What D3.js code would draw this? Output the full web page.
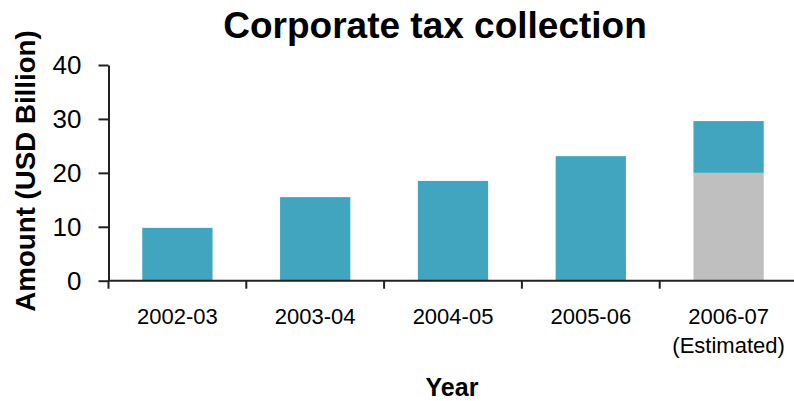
<!DOCTYPE html>
<html><head><meta charset="utf-8">
<script src="https://cdn.jsdelivr.net/npm/d3@7"></script>
<style>body{margin:0;background:#fff}svg{display:block}text{font-family:"Liberation Sans",Arial,Helvetica,sans-serif}</style>
</head><body>
<svg id="c" width="794" height="401"></svg>
<script>
const categories = ["2002-03","2003-04","2004-05","2005-06","2006-07"];
const subLabels = ["","","","","(Estimated)"];
const grayValues = [0,0,0,0,20];
const tealValues = [9.8,15.5,18.5,23.1,9.6];
const yTicks = [0,10,20,30,40];
const title = "Corporate tax collection";
const yTitle = "Amount (USD Billion)";
const xTitle = "Year";

const svg = d3.select("#c");
const x0 = 108.5, x1 = 797.5, yTop = 65, yBot = 280.7;
const x = d3.scaleBand().domain(categories).range([x0, x1]).paddingInner(0.49).paddingOuter(0.245);
const y = d3.scaleLinear().domain([0,40]).range([yBot, yTop]);

const rows = categories.map((c,i)=>({cat:c, gray:grayValues[i], teal:tealValues[i]}));
const stack = d3.stack().keys(["gray","teal"])(rows);
const colors = {gray:"#BFBFBF", teal:"#41A5BF"};

svg.append("g").selectAll("g").data(stack).join("g")
  .attr("fill", d=>colors[d.key])
  .selectAll("rect").data(d=>d).join("rect")
  .attr("x", d=>x(d.data.cat))
  .attr("width", x.bandwidth())
  .attr("y", d=>y(d[1]))
  .attr("height", d=>y(d[0])-y(d[1]));

// y axis
const yAxis = svg.append("g").attr("transform",`translate(${x0},0)`)
  .call(d3.axisLeft(y).tickValues(yTicks).tickSize(10).tickPadding(17).tickSizeOuter(0));
yAxis.select(".domain").attr("stroke","#222").attr("stroke-width",2);
yAxis.selectAll(".tick line").attr("stroke","#222").attr("stroke-width",2);
yAxis.selectAll("text").attr("font-size",26).attr("fill","#000");

// x axis line and boundary ticks
const step = x.step();
const bounds = categories.map((c,i)=>x(c) - x.paddingInner()*step/2);
svg.append("line").attr("x1",x0).attr("x2",794).attr("y1",yBot).attr("y2",yBot)
  .attr("stroke","#222").attr("stroke-width",2);
svg.append("g").selectAll("line").data(bounds).join("line")
  .attr("x1",d=>d).attr("x2",d=>d).attr("y1",yBot).attr("y2",yBot+8)
  .attr("stroke","#222").attr("stroke-width",2);

const xl = svg.append("g");
xl.selectAll("text.cat").data(categories).join("text").attr("class","cat")
  .attr("x",d=>x(d)+x.bandwidth()/2).attr("y",324)
  .attr("text-anchor","middle").attr("font-size",22).text(d=>d);
xl.selectAll("text.sub").data(categories.map((c,i)=>({c,s:subLabels[i]}))).join("text").attr("class","sub")
  .attr("x",d=>x(d.c)+x.bandwidth()/2).attr("y",353)
  .attr("text-anchor","middle").attr("font-size",22).text(d=>d.s);

svg.append("text").attr("x",435).attr("y",38).attr("text-anchor","middle")
  .attr("font-size",37).attr("font-weight","bold").text(title);
svg.append("text").attr("transform","translate(35,171) rotate(-90)").attr("text-anchor","middle")
  .attr("font-size",27.7).attr("font-weight","bold").text(yTitle);
svg.append("text").attr("x",452).attr("y",396).attr("text-anchor","middle")
  .attr("font-size",25).attr("font-weight","bold").text(xTitle);
</script>
</body></html>
